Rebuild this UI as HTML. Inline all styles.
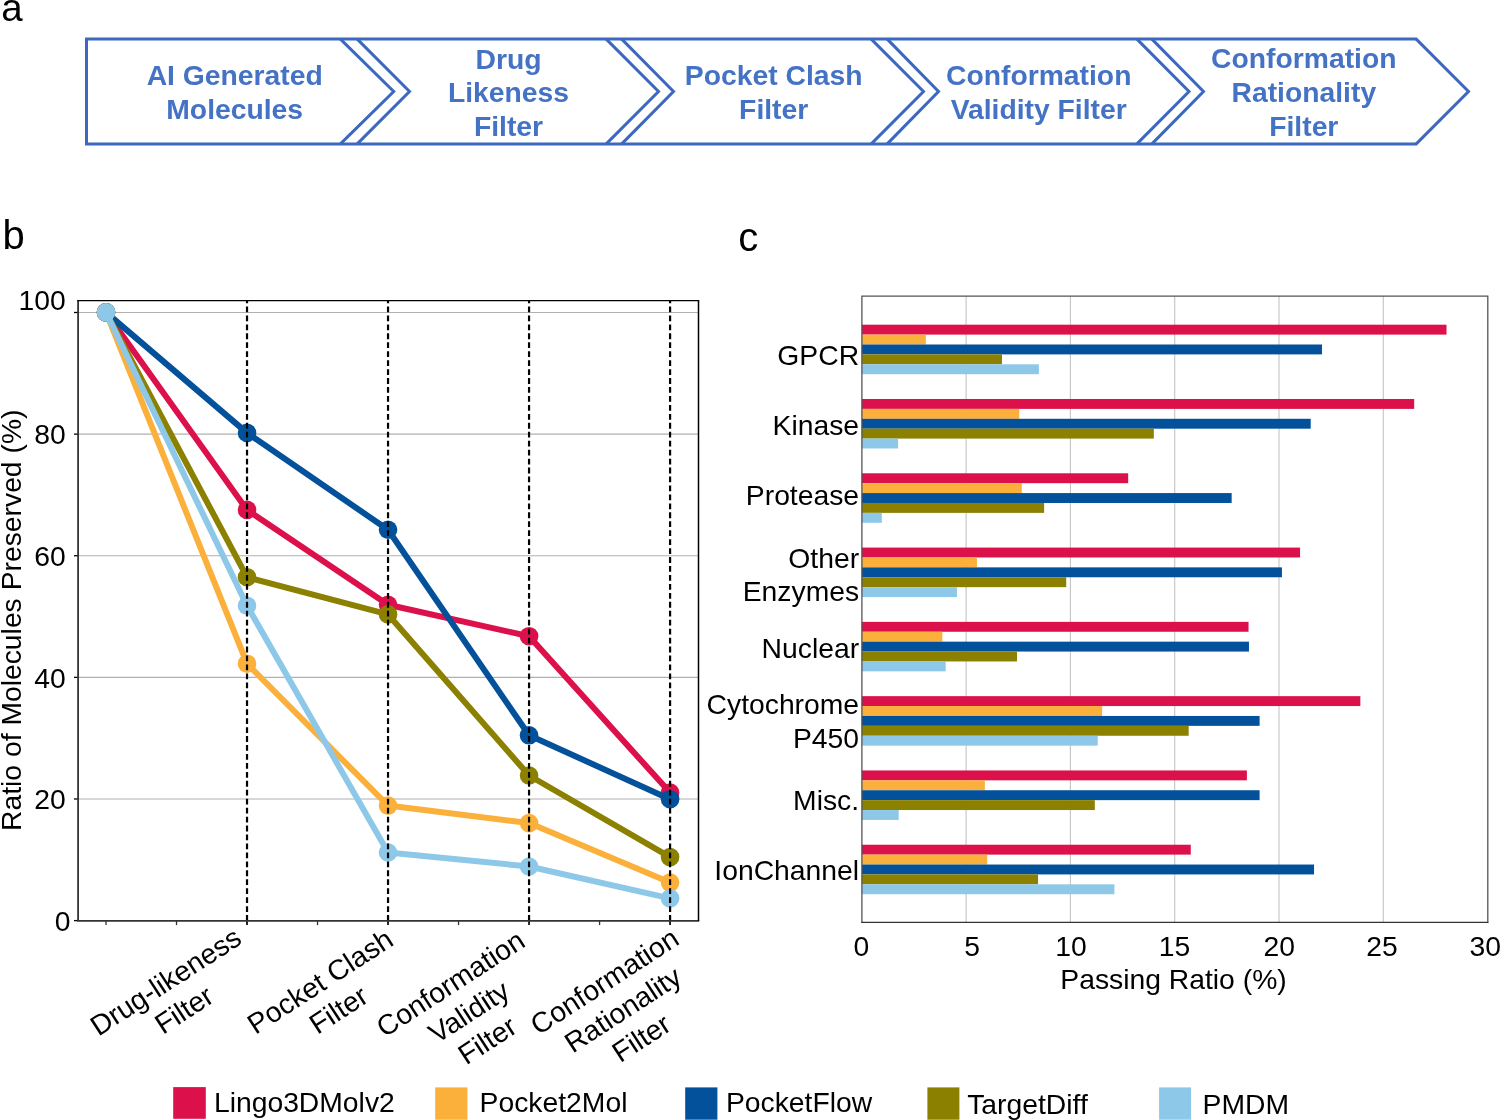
<!DOCTYPE html>
<html><head><meta charset="utf-8"><title>Figure</title>
<style>html,body{margin:0;padding:0;background:#fff;width:1500px;height:1120px;overflow:hidden}svg{display:block;will-change:transform}</style>
</head><body>
<svg width="1500" height="1120" viewBox="0 0 1500 1120" font-family='"Liberation Sans", sans-serif'>
<rect width="1500" height="1120" fill="#fff"/>
<text x="1.3" y="20.7" font-size="38.5" fill="#000">a</text>
<text x="2.5" y="248.8" font-size="40" fill="#000">b</text>
<text x="738.3" y="251.2" font-size="40" fill="#000">c</text>
<path d="M340.2,38.9 L393.7,91.5 L340.2,144.1" fill="none" stroke="#3C68BF" stroke-width="3" stroke-linejoin="miter"/>
<path d="M357,38.9 L409.5,91.5 L357,144.1 M606,38.9 L658.5,91.5 L606,144.1" fill="none" stroke="#3C68BF" stroke-width="3" stroke-linejoin="miter"/>
<path d="M621.5,38.9 L673.5,91.5 L621.5,144.1 M871,38.9 L923.5,91.5 L871,144.1" fill="none" stroke="#3C68BF" stroke-width="3" stroke-linejoin="miter"/>
<path d="M887,38.9 L938.5,91.5 L887,144.1 M1136.7,38.9 L1189,91.5 L1136.7,144.1" fill="none" stroke="#3C68BF" stroke-width="3" stroke-linejoin="miter"/>
<path d="M1151.7,38.9 L1203.5,91.5 L1151.7,144.1 M1416,38.9 L1468.5,91.5 L1416,144.1" fill="none" stroke="#3C68BF" stroke-width="3" stroke-linejoin="miter"/>
<path d="M86.5,38.9 V144.1 M85,38.9 H1417 M85,144.1 H1417" fill="none" stroke="#3C68BF" stroke-width="3"/>
<text x="234.7" y="85.3" font-size="28.3" font-weight="bold" fill="#4472C4" text-anchor="middle">AI Generated</text>
<text x="234.7" y="118.7" font-size="28.3" font-weight="bold" fill="#4472C4" text-anchor="middle">Molecules</text>
<text x="508.5" y="68.7" font-size="28.3" font-weight="bold" fill="#4472C4" text-anchor="middle">Drug</text>
<text x="508.5" y="102.4" font-size="28.3" font-weight="bold" fill="#4472C4" text-anchor="middle">Likeness</text>
<text x="508.5" y="136" font-size="28.3" font-weight="bold" fill="#4472C4" text-anchor="middle">Filter</text>
<text x="773.7" y="85" font-size="28.3" font-weight="bold" fill="#4472C4" text-anchor="middle">Pocket Clash</text>
<text x="773.7" y="118.6" font-size="28.3" font-weight="bold" fill="#4472C4" text-anchor="middle">Filter</text>
<text x="1038.7" y="85.2" font-size="28.3" font-weight="bold" fill="#4472C4" text-anchor="middle">Conformation</text>
<text x="1038.7" y="118.6" font-size="28.3" font-weight="bold" fill="#4472C4" text-anchor="middle">Validity Filter</text>
<text x="1303.8" y="68.2" font-size="28.3" font-weight="bold" fill="#4472C4" text-anchor="middle">Conformation</text>
<text x="1303.8" y="102.3" font-size="28.3" font-weight="bold" fill="#4472C4" text-anchor="middle">Rationality</text>
<text x="1303.8" y="136" font-size="28.3" font-weight="bold" fill="#4472C4" text-anchor="middle">Filter</text>
<line x1="78.1" y1="798.98" x2="698.5" y2="798.98" stroke="#b0b0b0" stroke-width="1.1"/>
<line x1="78.1" y1="677.36" x2="698.5" y2="677.36" stroke="#b0b0b0" stroke-width="1.1"/>
<line x1="78.1" y1="555.74" x2="698.5" y2="555.74" stroke="#b0b0b0" stroke-width="1.1"/>
<line x1="78.1" y1="434.12" x2="698.5" y2="434.12" stroke="#b0b0b0" stroke-width="1.1"/>
<line x1="78.1" y1="312.50" x2="698.5" y2="312.50" stroke="#b0b0b0" stroke-width="1.1"/>
<line x1="74" y1="920.60" x2="78.1" y2="920.60" stroke="#000" stroke-width="1.3"/>
<text x="70.4" y="930.80" font-size="28.3" text-anchor="end" fill="#000">0</text>
<line x1="74" y1="798.98" x2="78.1" y2="798.98" stroke="#000" stroke-width="1.3"/>
<text x="65.8" y="809.18" font-size="28.3" text-anchor="end" fill="#000">20</text>
<line x1="74" y1="677.36" x2="78.1" y2="677.36" stroke="#000" stroke-width="1.3"/>
<text x="65.8" y="687.56" font-size="28.3" text-anchor="end" fill="#000">40</text>
<line x1="74" y1="555.74" x2="78.1" y2="555.74" stroke="#000" stroke-width="1.3"/>
<text x="65.8" y="565.94" font-size="28.3" text-anchor="end" fill="#000">60</text>
<line x1="74" y1="434.12" x2="78.1" y2="434.12" stroke="#000" stroke-width="1.3"/>
<text x="65.8" y="444.32" font-size="28.3" text-anchor="end" fill="#000">80</text>
<line x1="74" y1="312.50" x2="78.1" y2="312.50" stroke="#000" stroke-width="1.3"/>
<text x="65.8" y="309.6" font-size="28.3" text-anchor="end" fill="#000">100</text>
<line x1="106.00" y1="920.9" x2="106.00" y2="925.1" stroke="#333" stroke-width="1.3"/>
<line x1="176.51" y1="920.9" x2="176.51" y2="925.1" stroke="#333" stroke-width="1.3"/>
<line x1="247.02" y1="920.9" x2="247.02" y2="925.1" stroke="#333" stroke-width="1.3"/>
<line x1="317.53" y1="920.9" x2="317.53" y2="925.1" stroke="#333" stroke-width="1.3"/>
<line x1="388.04" y1="920.9" x2="388.04" y2="925.1" stroke="#333" stroke-width="1.3"/>
<line x1="458.55" y1="920.9" x2="458.55" y2="925.1" stroke="#333" stroke-width="1.3"/>
<line x1="529.06" y1="920.9" x2="529.06" y2="925.1" stroke="#333" stroke-width="1.3"/>
<line x1="599.57" y1="920.9" x2="599.57" y2="925.1" stroke="#333" stroke-width="1.3"/>
<line x1="670.08" y1="920.9" x2="670.08" y2="925.1" stroke="#333" stroke-width="1.3"/>
<polyline points="106.00,312.4 247.02,509.9 388.04,604.75 529.06,636.2 670.08,792.6" fill="none" stroke="#DC104A" stroke-width="6" stroke-linejoin="round"/>
<circle cx="106.00" cy="312.4" r="9.3" fill="#DC104A"/>
<circle cx="247.02" cy="509.9" r="9.3" fill="#DC104A"/>
<circle cx="388.04" cy="604.75" r="9.3" fill="#DC104A"/>
<circle cx="529.06" cy="636.2" r="9.3" fill="#DC104A"/>
<circle cx="670.08" cy="792.6" r="9.3" fill="#DC104A"/>
<polyline points="106.00,312.4 247.02,663.7 388.04,805.6 529.06,823.1 670.08,882.6" fill="none" stroke="#FBB03B" stroke-width="6" stroke-linejoin="round"/>
<circle cx="106.00" cy="312.4" r="9.3" fill="#FBB03B"/>
<circle cx="247.02" cy="663.7" r="9.3" fill="#FBB03B"/>
<circle cx="388.04" cy="805.6" r="9.3" fill="#FBB03B"/>
<circle cx="529.06" cy="823.1" r="9.3" fill="#FBB03B"/>
<circle cx="670.08" cy="882.6" r="9.3" fill="#FBB03B"/>
<polyline points="106.00,312.4 247.02,432.9 388.04,529.75 529.06,735.3 670.08,799.2" fill="none" stroke="#03519B" stroke-width="6" stroke-linejoin="round"/>
<circle cx="106.00" cy="312.4" r="9.3" fill="#03519B"/>
<circle cx="247.02" cy="432.9" r="9.3" fill="#03519B"/>
<circle cx="388.04" cy="529.75" r="9.3" fill="#03519B"/>
<circle cx="529.06" cy="735.3" r="9.3" fill="#03519B"/>
<circle cx="670.08" cy="799.2" r="9.3" fill="#03519B"/>
<polyline points="106.00,312.4 247.02,577.2 388.04,614.4 529.06,775.5 670.08,857.1" fill="none" stroke="#8B8000" stroke-width="6" stroke-linejoin="round"/>
<circle cx="106.00" cy="312.4" r="9.3" fill="#8B8000"/>
<circle cx="247.02" cy="577.2" r="9.3" fill="#8B8000"/>
<circle cx="388.04" cy="614.4" r="9.3" fill="#8B8000"/>
<circle cx="529.06" cy="775.5" r="9.3" fill="#8B8000"/>
<circle cx="670.08" cy="857.1" r="9.3" fill="#8B8000"/>
<polyline points="106.00,312.4 247.02,605.7 388.04,852.5 529.06,866.5 670.08,898.4" fill="none" stroke="#8EC8E8" stroke-width="6" stroke-linejoin="round"/>
<circle cx="106.00" cy="312.4" r="9.3" fill="#8EC8E8"/>
<circle cx="247.02" cy="605.7" r="9.3" fill="#8EC8E8"/>
<circle cx="388.04" cy="852.5" r="9.3" fill="#8EC8E8"/>
<circle cx="529.06" cy="866.5" r="9.3" fill="#8EC8E8"/>
<circle cx="670.08" cy="898.4" r="9.3" fill="#8EC8E8"/>
<line x1="247.02" y1="920.9" x2="247.02" y2="300.6" stroke="#000" stroke-width="2.2" stroke-dasharray="5.8,3.15"/>
<line x1="247.02" y1="920.9" x2="247.02" y2="925.1" stroke="#000" stroke-width="1.4"/>
<line x1="388.04" y1="920.9" x2="388.04" y2="300.6" stroke="#000" stroke-width="2.2" stroke-dasharray="5.8,3.15"/>
<line x1="388.04" y1="920.9" x2="388.04" y2="925.1" stroke="#000" stroke-width="1.4"/>
<line x1="529.06" y1="920.9" x2="529.06" y2="300.6" stroke="#000" stroke-width="2.2" stroke-dasharray="5.8,3.15"/>
<line x1="529.06" y1="920.9" x2="529.06" y2="925.1" stroke="#000" stroke-width="1.4"/>
<line x1="670.08" y1="920.9" x2="670.08" y2="300.6" stroke="#000" stroke-width="2.2" stroke-dasharray="5.8,3.15"/>
<line x1="670.08" y1="920.9" x2="670.08" y2="925.1" stroke="#000" stroke-width="1.4"/>
<line x1="78.1" y1="300.6" x2="78.1" y2="920.9" stroke="#333" stroke-width="1.8"/>
<line x1="77.1" y1="920.9" x2="699.2" y2="920.9" stroke="#333" stroke-width="1.6"/>
<line x1="77.19999999999999" y1="300.6" x2="699.2" y2="300.6" stroke="#000" stroke-width="1.3"/>
<line x1="698.5" y1="300.6" x2="698.5" y2="920.9" stroke="#000" stroke-width="1.5"/>
<text transform="translate(20.9,831) rotate(-90)" font-size="28.3" fill="#000">Ratio of Molecules Preserved (%)</text>
<g transform="translate(98.37,1036.75) rotate(-33)" font-size="28.3" fill="#000"><text x="86.52" y="0.00" text-anchor="middle">Drug-likeness</text><text x="86.52" y="33.80" text-anchor="middle">Filter</text></g>
<g transform="translate(255.47,1035.0) rotate(-33)" font-size="28.3" fill="#000"><text x="83.38" y="0.00" text-anchor="middle">Pocket Clash</text><text x="83.38" y="33.80" text-anchor="middle">Filter</text></g>
<g transform="translate(384.5,1038.0) rotate(-33)" font-size="28.3" fill="#000"><text x="84.93" y="0.00" text-anchor="middle">Conformation</text><text x="84.93" y="33.80" text-anchor="middle">Validity</text><text x="84.93" y="67.60" text-anchor="middle">Filter</text></g>
<g transform="translate(538.5,1035.7) rotate(-33)" font-size="28.3" fill="#000"><text x="84.93" y="0.00" text-anchor="middle">Conformation</text><text x="84.93" y="33.80" text-anchor="middle">Rationality</text><text x="84.93" y="67.60" text-anchor="middle">Filter</text></g>
<line x1="966.10" y1="295.8" x2="966.10" y2="922.2" stroke="#c4c4c4" stroke-width="1.1"/>
<line x1="1070.40" y1="295.8" x2="1070.40" y2="922.2" stroke="#c4c4c4" stroke-width="1.1"/>
<line x1="1174.70" y1="295.8" x2="1174.70" y2="922.2" stroke="#c4c4c4" stroke-width="1.1"/>
<line x1="1279.00" y1="295.8" x2="1279.00" y2="922.2" stroke="#c4c4c4" stroke-width="1.1"/>
<line x1="1383.30" y1="295.8" x2="1383.30" y2="922.2" stroke="#c4c4c4" stroke-width="1.1"/>
<rect x="861.8" y="324.70" width="584.71" height="9.9" fill="#DC104A"/>
<rect x="861.8" y="334.60" width="64.04" height="9.9" fill="#FBB03B"/>
<rect x="861.8" y="344.50" width="460.17" height="9.9" fill="#03519B"/>
<rect x="861.8" y="354.40" width="140.18" height="9.9" fill="#8B8000"/>
<rect x="861.8" y="364.30" width="177.10" height="9.9" fill="#8EC8E8"/>
<rect x="861.8" y="398.99" width="552.37" height="9.9" fill="#DC104A"/>
<rect x="861.8" y="408.89" width="157.49" height="9.9" fill="#FBB03B"/>
<rect x="861.8" y="418.79" width="448.91" height="9.9" fill="#03519B"/>
<rect x="861.8" y="428.69" width="292.04" height="9.9" fill="#8B8000"/>
<rect x="861.8" y="438.59" width="36.30" height="9.9" fill="#8EC8E8"/>
<rect x="861.8" y="473.28" width="266.38" height="9.9" fill="#DC104A"/>
<rect x="861.8" y="483.18" width="160.00" height="9.9" fill="#FBB03B"/>
<rect x="861.8" y="493.08" width="369.85" height="9.9" fill="#03519B"/>
<rect x="861.8" y="502.98" width="182.32" height="9.9" fill="#8B8000"/>
<rect x="861.8" y="512.88" width="20.03" height="9.9" fill="#8EC8E8"/>
<rect x="861.8" y="547.57" width="438.27" height="9.9" fill="#DC104A"/>
<rect x="861.8" y="557.47" width="115.15" height="9.9" fill="#FBB03B"/>
<rect x="861.8" y="567.37" width="420.12" height="9.9" fill="#03519B"/>
<rect x="861.8" y="577.27" width="204.43" height="9.9" fill="#8B8000"/>
<rect x="861.8" y="587.17" width="95.12" height="9.9" fill="#8EC8E8"/>
<rect x="861.8" y="621.86" width="386.74" height="9.9" fill="#DC104A"/>
<rect x="861.8" y="631.76" width="80.52" height="9.9" fill="#FBB03B"/>
<rect x="861.8" y="641.66" width="387.16" height="9.9" fill="#03519B"/>
<rect x="861.8" y="651.56" width="155.20" height="9.9" fill="#8B8000"/>
<rect x="861.8" y="661.46" width="83.86" height="9.9" fill="#8EC8E8"/>
<rect x="861.8" y="696.15" width="498.55" height="9.9" fill="#DC104A"/>
<rect x="861.8" y="706.05" width="240.31" height="9.9" fill="#FBB03B"/>
<rect x="861.8" y="715.95" width="397.80" height="9.9" fill="#03519B"/>
<rect x="861.8" y="725.85" width="326.88" height="9.9" fill="#8B8000"/>
<rect x="861.8" y="735.75" width="235.93" height="9.9" fill="#8EC8E8"/>
<rect x="861.8" y="770.44" width="385.08" height="9.9" fill="#DC104A"/>
<rect x="861.8" y="780.34" width="123.07" height="9.9" fill="#FBB03B"/>
<rect x="861.8" y="790.24" width="397.80" height="9.9" fill="#03519B"/>
<rect x="861.8" y="800.14" width="233.01" height="9.9" fill="#8B8000"/>
<rect x="861.8" y="810.04" width="36.92" height="9.9" fill="#8EC8E8"/>
<rect x="861.8" y="844.73" width="328.96" height="9.9" fill="#DC104A"/>
<rect x="861.8" y="854.63" width="125.37" height="9.9" fill="#FBB03B"/>
<rect x="861.8" y="864.53" width="452.24" height="9.9" fill="#03519B"/>
<rect x="861.8" y="874.43" width="176.27" height="9.9" fill="#8B8000"/>
<rect x="861.8" y="884.33" width="252.61" height="9.9" fill="#8EC8E8"/>
<path d="M861.9,922.8000000000001 V296.1 H1487.8 V922.8000000000001" fill="none" stroke="#555" stroke-width="1.3"/>
<line x1="861.3" y1="922.4" x2="1488.3999999999999" y2="922.4" stroke="#333" stroke-width="1.2"/>
<text x="861.3" y="955.5" font-size="28.3" text-anchor="middle" fill="#000">0</text>
<text x="972" y="955.5" font-size="28.3" text-anchor="middle" fill="#000">5</text>
<text x="1071" y="955.5" font-size="28.3" text-anchor="middle" fill="#000">10</text>
<text x="1174.5" y="955.5" font-size="28.3" text-anchor="middle" fill="#000">15</text>
<text x="1279.2" y="955.5" font-size="28.3" text-anchor="middle" fill="#000">20</text>
<text x="1381.9" y="955.5" font-size="28.3" text-anchor="middle" fill="#000">25</text>
<text x="1485.3" y="955.5" font-size="28.3" text-anchor="middle" fill="#000">30</text>
<text x="1173.5" y="989.3" font-size="28.3" text-anchor="middle" fill="#000">Passing Ratio (%)</text>
<text x="859.1" y="365" font-size="28.3" text-anchor="end" fill="#000">GPCR</text>
<text x="859.1" y="435" font-size="28.3" text-anchor="end" fill="#000">Kinase</text>
<text x="859.1" y="505" font-size="28.3" text-anchor="end" fill="#000">Protease</text>
<text x="859.1" y="567.5" font-size="28.3" text-anchor="end" fill="#000">Other</text>
<text x="859.1" y="601.25" font-size="28.3" text-anchor="end" fill="#000">Enzymes</text>
<text x="859.1" y="658.1" font-size="28.3" text-anchor="end" fill="#000">Nuclear</text>
<text x="859.1" y="713.5" font-size="28.3" text-anchor="end" fill="#000">Cytochrome</text>
<text x="859.1" y="747.5" font-size="28.3" text-anchor="end" fill="#000">P450</text>
<text x="859.1" y="809.75" font-size="28.3" text-anchor="end" fill="#000">Misc.</text>
<text x="859.1" y="880.25" font-size="28.3" text-anchor="end" fill="#000">IonChannel</text>
<rect x="173.2" y="1087.1" width="32.6" height="31.7" fill="#DC104A"/>
<text x="213.9" y="1112.2" font-size="28.3" fill="#000">Lingo3DMolv2</text>
<rect x="435.2" y="1087.4" width="32.2" height="32.3" fill="#FBB03B"/>
<text x="479.6" y="1112.2" font-size="28.3" fill="#000">Pocket2Mol</text>
<rect x="685.2" y="1087.4" width="32.2" height="32.3" fill="#03519B"/>
<text x="725.9" y="1112.2" font-size="28.3" fill="#000">PocketFlow</text>
<rect x="927.4" y="1087.4" width="32" height="32.3" fill="#8B8000"/>
<text x="967.2" y="1114.2" font-size="28.3" fill="#000">TargetDiff</text>
<rect x="1159.1" y="1087.4" width="31.9" height="32.3" fill="#8EC8E8"/>
<text x="1202.6" y="1114.2" font-size="28.3" fill="#000">PMDM</text>
</svg>
</body></html>
